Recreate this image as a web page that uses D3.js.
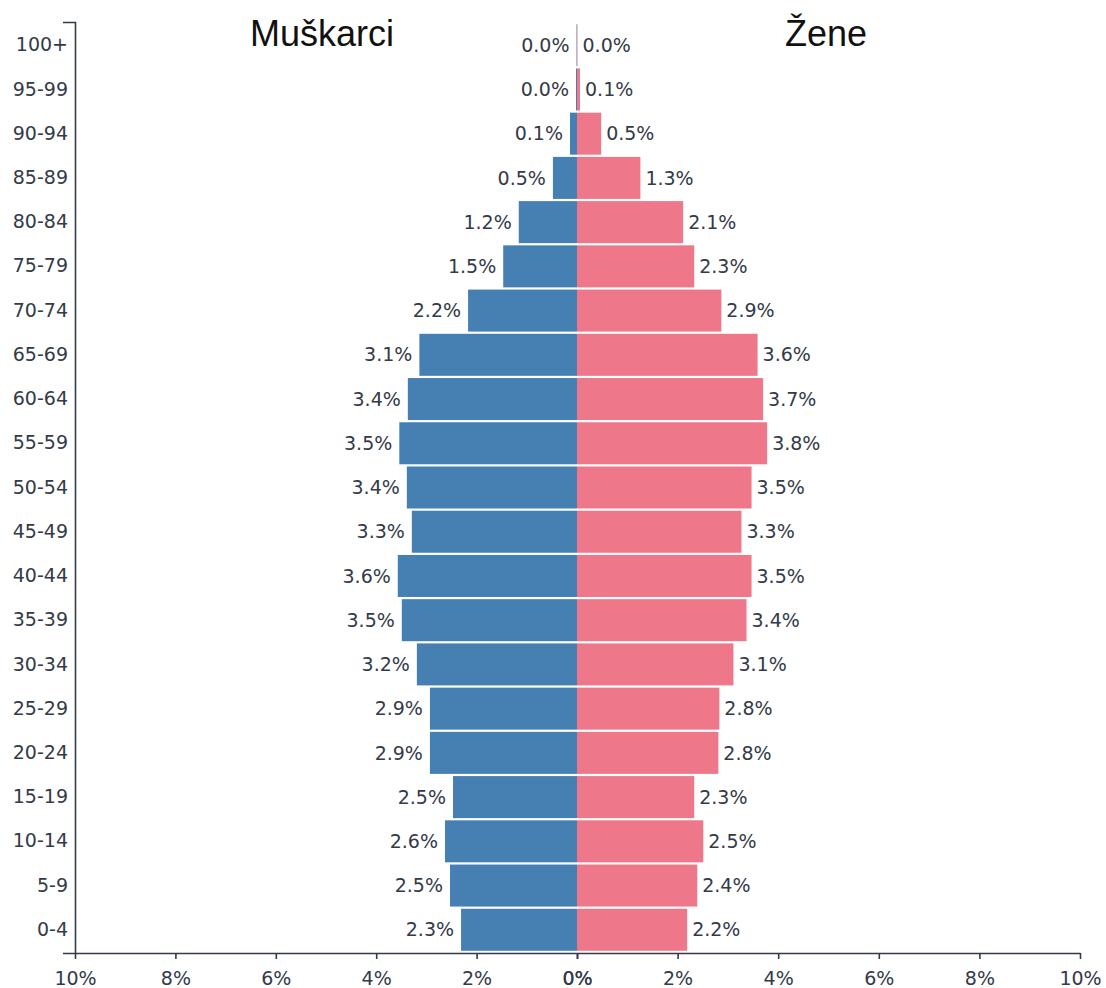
<!DOCTYPE html>
<html>
<head>
<meta charset="utf-8">
<script src="https://cdn.jsdelivr.net/npm/d3@7"></script>
<style>
  body { margin: 0; background: #fff; }
  text { font-family: "DejaVu Sans", sans-serif; fill: #333a48; }
</style>
</head>
<body>
<script>
// starosne grupe, od najstarije ka najmlađoj
const grupe = ["100+", "95-99", "90-94", "85-89", "80-84", "75-79", "70-74", "65-69", "60-64",
  "55-59", "50-54", "45-49", "40-44", "35-39", "30-34", "25-29", "20-24", "15-19", "10-14", "5-9", "0-4"];
const muskarci = [0.01, 0.02, 0.14, 0.48, 1.16, 1.47, 2.17, 3.14, 3.37, 3.54, 3.39, 3.29, 3.57, 3.49,
  3.19, 2.93, 2.93, 2.47, 2.63, 2.53, 2.31];
const zene = [0.01, 0.06, 0.48, 1.26, 2.11, 2.33, 2.87, 3.59, 3.7, 3.78, 3.47, 3.27, 3.47, 3.37,
  3.11, 2.83, 2.81, 2.33, 2.51, 2.39, 2.19];
const xTicks = [0, 2, 4, 6, 8, 10];

const width = 1106, height = 988;
const margin = { top: 22, right: 26, bottom: 35, left: 75 };

const svg = d3.select("body").append("svg")
  .attr("width", width).attr("height", height);

const centar = 577;
const xL = d3.scaleLinear().domain([10, 0]).range([margin.left, centar]);
const xR = d3.scaleLinear().domain([0, 10]).range([centar, width - margin.right]);
const y = d3.scaleBand().domain(grupe).range([margin.top, height - margin.bottom]).padding(0.05);

// barovi - muškarci
svg.append("g").selectAll("rect")
  .data(muskarci)
  .join("rect")
  .attr("x", d => xL(d))
  .attr("y", (_, i) => y(grupe[i]))
  .attr("width", d => centar - xL(d))
  .attr("height", y.bandwidth())
  .attr("fill", "#4680b3");

// barovi - žene
svg.append("g").selectAll("rect")
  .data(zene)
  .join("rect")
  .attr("x", centar)
  .attr("y", (_, i) => y(grupe[i]))
  .attr("width", d => xR(d) - centar)
  .attr("height", y.bandwidth())
  .attr("fill", "#ee7889");

// oznake vrednosti
svg.append("g").selectAll("text")
  .data(muskarci)
  .join("text")
  .attr("x", d => xL(d) - 7)
  .attr("y", (_, i) => y(grupe[i]) + y.bandwidth() / 2)
  .attr("dy", "0.35em")
  .attr("text-anchor", "end")
  .style("font-size", "19px")
  .text(d => d.toFixed(1) + "%");

svg.append("g").selectAll("text")
  .data(zene)
  .join("text")
  .attr("x", d => xR(d) + 5)
  .attr("y", (_, i) => y(grupe[i]) + y.bandwidth() / 2)
  .attr("dy", "0.35em")
  .style("font-size", "19px")
  .text(d => d.toFixed(1) + "%");

// ose
const osaY = svg.append("g")
  .attr("transform", `translate(${margin.left},0)`)
  .call(d3.axisLeft(y).tickSizeInner(0).tickSizeOuter(12).tickPadding(7));

const osaXL = svg.append("g")
  .attr("transform", `translate(0,${height - margin.bottom})`)
  .call(d3.axisBottom(xL).tickValues(xTicks).tickSizeOuter(0).tickPadding(10).tickFormat(d => d + "%"));

const osaXR = svg.append("g")
  .attr("transform", `translate(0,${height - margin.bottom})`)
  .call(d3.axisBottom(xR).tickValues(xTicks).tickSizeOuter(0).tickPadding(10).tickFormat(d => d + "%"));

[osaY, osaXL, osaXR].forEach(g => {
  g.selectAll("text").style("font-size", "19px").attr("fill", "#333a48");
  g.selectAll("path, line").attr("stroke", "#333a48").attr("stroke-width", 1.6);
});
// spusti oznake x ose malo niže
[osaXL, osaXR].forEach(g => g.selectAll("text").attr("dy", "0.85em"));

// naslovi
svg.append("text")
  .attr("x", 322).attr("y", 46)
  .attr("text-anchor", "middle")
  .style("font-family", "'Liberation Sans', Arial, sans-serif")
  .style("font-size", "36px")
  .style("fill", "#111")
  .text("Muškarci");

svg.append("text")
  .attr("x", 826).attr("y", 46)
  .attr("text-anchor", "middle")
  .style("font-family", "'Liberation Sans', Arial, sans-serif")
  .style("font-size", "36px")
  .style("fill", "#111")
  .text("Žene");
</script>
</body>
</html>
